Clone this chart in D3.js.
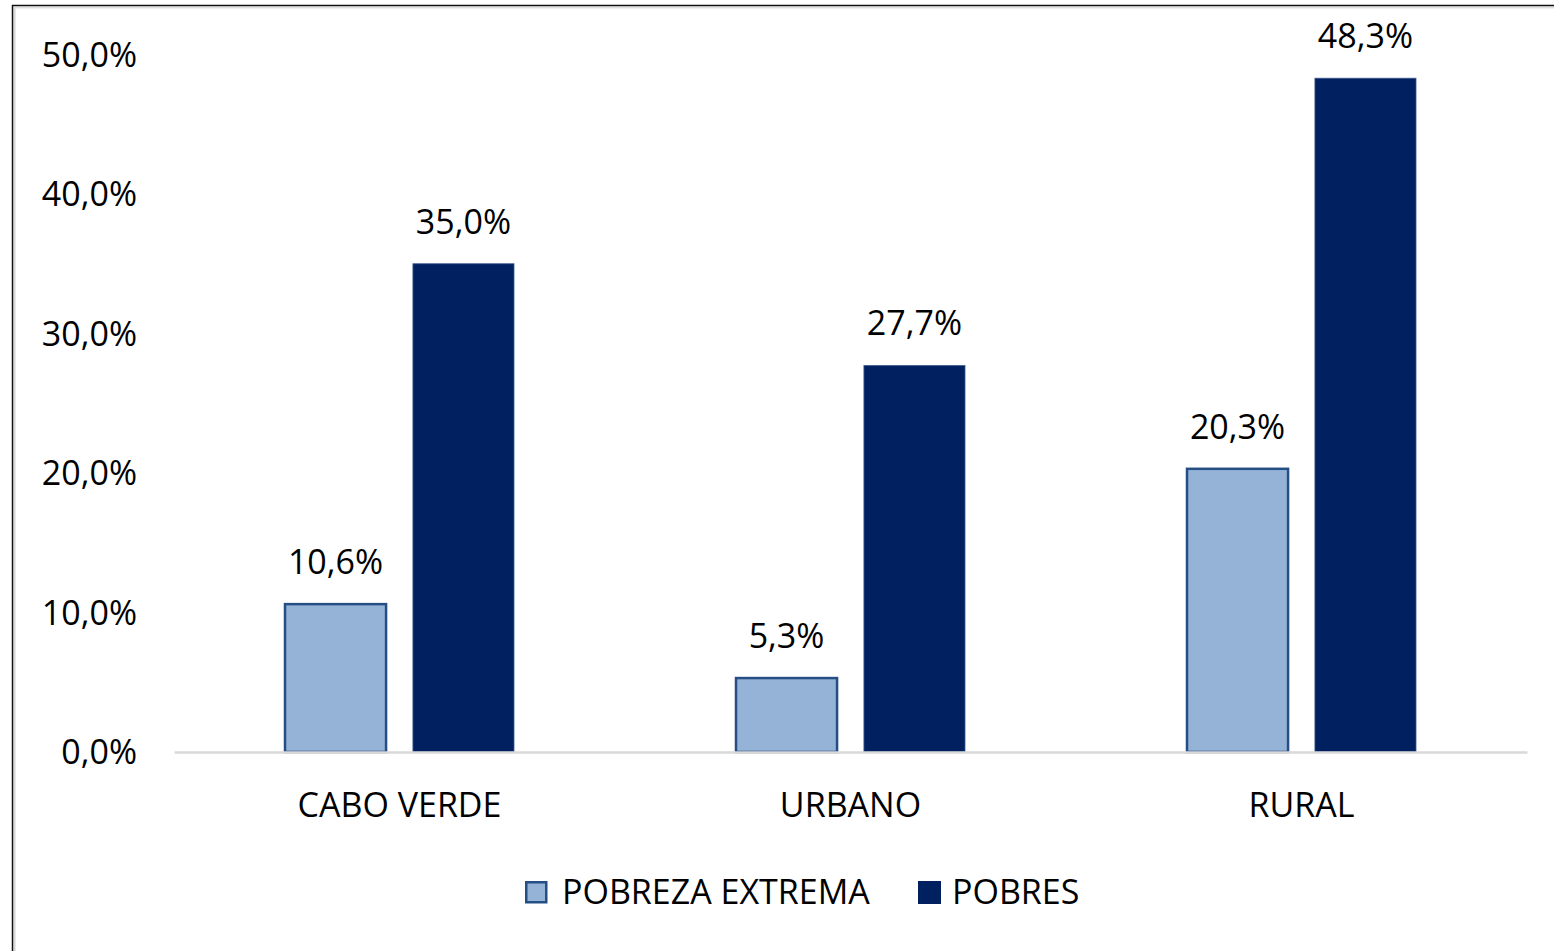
<!DOCTYPE html>
<html>
<head>
<meta charset="utf-8">
<script src="https://cdn.jsdelivr.net/npm/d3@7"></script>
<style>
  body { margin: 0; background: #fff; }
  text { font-family: "Open Sans", "Noto Sans", sans-serif; fill: #000; }
</style>
</head>
<body>
<div id="chart"></div>
<script>
var categories = ["CABO VERDE", "URBANO", "RURAL"];
var seriesNames = ["POBREZA EXTREMA", "POBRES"];
var extrema = [10.6, 5.3, 20.3];
var pobres = [35.0, 27.7, 48.3];
var yTicks = [0, 10, 20, 30, 40, 50];

var W = 1554, H = 951;
var FS = "34px";
var colors = { "POBREZA EXTREMA": "#95b3d7", "POBRES": "#002060" };
var strokes = { "POBREZA EXTREMA": "#254e84", "POBRES": "#3a5a8c" };

var fmt = function(v) { return v.toFixed(1).replace(".", ",") + "%"; };

var data = categories.map(function(c, i) {
  return { cat: c, values: [
    { key: seriesNames[0], value: extrema[i] },
    { key: seriesNames[1], value: pobres[i] }
  ]};
});

var svg = d3.select("#chart").append("svg")
  .attr("width", W)
  .attr("height", H);

// frame (screenshot edge)
svg.append("line").attr("x1", 14.5).attr("x2", 14.5).attr("y1", 7).attr("y2", H)
  .attr("stroke", "#d6d6d6").attr("stroke-width", 2);
svg.append("line").attr("x1", 14).attr("x2", W).attr("y1", 7.5).attr("y2", 7.5)
  .attr("stroke", "#e0e0e0").attr("stroke-width", 2);
svg.append("line").attr("x1", 12.5).attr("x2", 12.5).attr("y1", 5).attr("y2", H)
  .attr("stroke", "#111").attr("stroke-width", 1.5);
svg.append("line").attr("x1", 12).attr("x2", W).attr("y1", 5.5).attr("y2", 5.5)
  .attr("stroke", "#111").attr("stroke-width", 1.5);

var plotLeft = 174, plotRight = 1527;

var x0 = d3.scaleBand()
  .domain(categories)
  .range([plotLeft, plotRight]);

var x1 = d3.scaleBand()
  .domain(seriesNames)
  .range([0, 229])
  .paddingInner(0.21);

var y = d3.scaleLinear()
  .domain([0, 50])
  .range([752, 54.5]);

// y axis labels
var yAxis = d3.axisLeft(y)
  .tickValues(yTicks)
  .tickFormat(fmt)
  .tickSize(0)
  .tickPadding(0);

var gy = svg.append("g")
  .attr("transform", "translate(137,0)")
  .call(yAxis);
gy.select(".domain").remove();
gy.selectAll("text")
  .style("font-size", FS)
  .attr("dy", "0.35em")
  .style("font-family", "'Open Sans', sans-serif");

// bars
var groups = svg.selectAll(".grp")
  .data(data)
  .enter().append("g")
  .attr("class", "grp")
  .attr("transform", function(d) {
    return "translate(" + (x0(d.cat) + x0.bandwidth() / 2 - 114.5) + ",0)";
  });

groups.selectAll("rect")
  .data(function(d) { return d.values; })
  .enter().append("rect")
  .attr("x", function(d) { return x1(d.key); })
  .attr("width", x1.bandwidth())
  .attr("y", function(d) { return y(d.value); })
  .attr("height", function(d) { return y(0) - y(d.value); })
  .attr("fill", function(d) { return colors[d.key]; })
  .attr("stroke", function(d) { return strokes[d.key]; })
  .attr("stroke-width", function(d) { return d.key === "POBRES" ? 0.8 : 2.5; });

groups.selectAll(".lbl")
  .data(function(d) { return d.values; })
  .enter().append("text")
  .attr("class", "lbl")
  .attr("x", function(d) { return x1(d.key) + x1.bandwidth() / 2; })
  .attr("y", function(d) { return y(d.value) - 42; })
  .attr("dy", "0.35em")
  .attr("text-anchor", "middle")
  .style("font-size", FS)
  .text(function(d) { return fmt(d.value); });

// x axis
var xAxis = d3.axisBottom(x0).tickSize(0).tickPadding(0);
var gx = svg.append("g")
  .attr("transform", "translate(0,752)")
  .call(xAxis);
gx.select(".domain")
  .attr("stroke", "#d9d9d9")
  .attr("stroke-width", 2.5);
gx.selectAll("text")
  .attr("y", 53)
  .attr("dy", "0.35em")
  .style("font-size", FS)
  .style("font-family", "'Open Sans', sans-serif");

// legend
var legendItems = [
  { key: seriesNames[0], x: 525 },
  { key: seriesNames[1], x: 918 }
];
var lg = svg.selectAll(".leg")
  .data(legendItems)
  .enter().append("g")
  .attr("class", "leg")
  .attr("transform", function(d) { return "translate(" + d.x + ",881)"; });

lg.append("rect")
  .attr("x", function(d) { return d.key === "POBRES" ? 0 : 1.25; })
  .attr("y", function(d) { return d.key === "POBRES" ? 0 : 1.25; })
  .attr("width", function(d) { return d.key === "POBRES" ? 23 : 20; })
  .attr("height", function(d) { return d.key === "POBRES" ? 23 : 20; })
  .attr("fill", function(d) { return colors[d.key]; })
  .attr("stroke", function(d) { return d.key === "POBRES" ? "none" : strokes[d.key]; })
  .attr("stroke-width", 2.5);

lg.append("text")
  .attr("x", function(d) { return d.key === "POBRES" ? 34 : 37; })
  .attr("y", 11.5)
  .attr("dy", "0.35em")
  .style("font-size", FS)
  .text(function(d) { return d.key; });
</script>
</body>
</html>
